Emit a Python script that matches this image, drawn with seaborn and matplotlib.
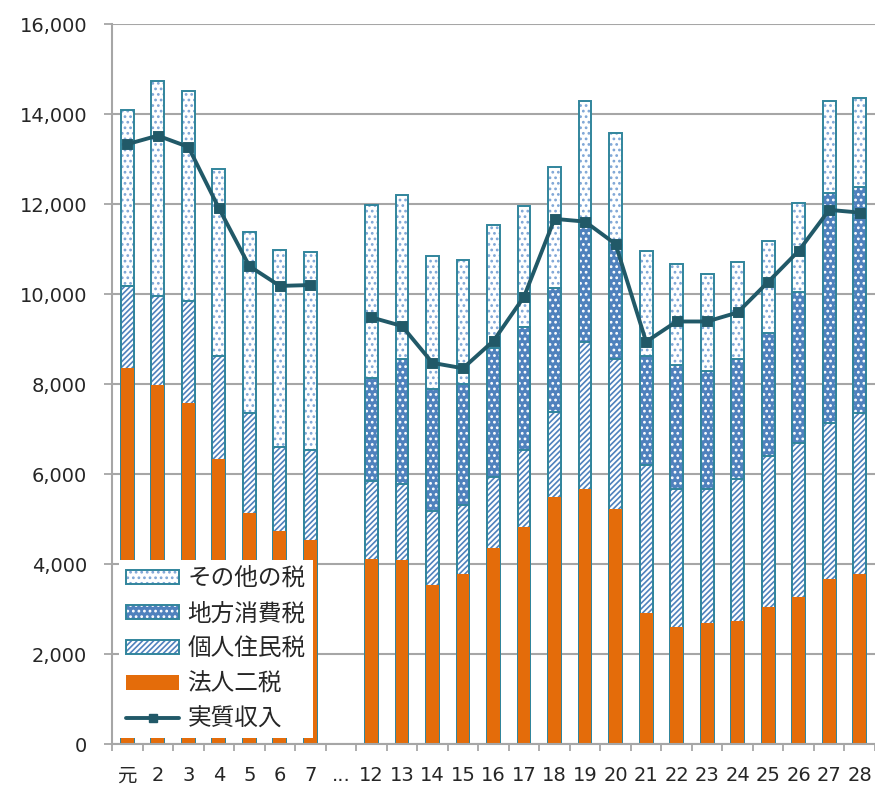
import matplotlib
matplotlib.use('Agg')
import matplotlib.pyplot as plt
import seaborn as sns
import pandas as pd
import numpy as np
from matplotlib.patches import Patch
from matplotlib.lines import Line2D
from matplotlib.legend_handler import HandlerTuple
from matplotlib.ticker import StrMethodFormatter

# 年度 (平成) と「...」の空き
years = ['元', '2', '3', '4', '5', '6', '7',
         '12', '13', '14', '15', '16', '17', '18', '19', '20',
         '21', '22', '23', '24', '25', '26', '27', '28']
order = years[:7] + ['...'] + years[7:]

# 税目別の積み上げ値
corp = [8350, 7980, 7580, 6330, 5130, 4730, 4530,
        4110, 4100, 3530, 3780, 4350, 4830, 5480, 5660, 5220,
        2910, 2600, 2680, 2730, 3040, 3260, 3670, 3780]
indiv = [1830, 1980, 2260, 2300, 2230, 1870, 2000,
         1730, 1680, 1650, 1530, 1590, 1700, 1890, 3280, 3330,
         3290, 3070, 2990, 3160, 3370, 3440, 3470, 3570]
local = [0, 0, 0, 0, 0, 0, 0,
         2290, 2770, 2710, 2680, 2870, 2730, 2760, 2590, 2540,
         2420, 2750, 2620, 2660, 2720, 3340, 5100, 5020]
other = [3910, 4770, 4680, 4140, 4010, 4380, 4410,
         3850, 3660, 2950, 2770, 2720, 2700, 2690, 2760, 2490,
         2340, 2250, 2150, 2160, 2050, 1990, 2050, 1980]
# 実質収入
real = [13330, 13520, 13270, 11910, 10620, 10180, 10200,
        9480, 9290, 8470, 8350, 8960, 9940, 11670, 11610, 11110,
        8940, 9390, 9390, 9590, 10270, 10960, 11870, 11810]

df = pd.DataFrame({'year': years, 'corp': corp, 'indiv': indiv,
                   'local': local, 'other': other, 'real': real})
df['c1'] = df['corp']
df['c2'] = df['c1'] + df['indiv']
df['c3'] = df['c2'] + df['local']
df['c4'] = df['c3'] + df['other']
df['seg'] = [0] * 7 + [1] * 17

teal = '#31859C'
blue = '#4F81BD'
lblue = '#7FA6D6'
orange = '#E46C0A'
dark = '#215968'
gridc = '#A6A6A6'

h_other = '...'
h_local = '...'
h_indiv = '//////'

sns.set_style('white')
plt.rcParams['font.family'] = ['DejaVu Sans', 'Noto Sans CJK JP']
plt.rcParams['hatch.linewidth'] = 1.2

fig = plt.figure(figsize=(8.75, 7.88), dpi=100)
ax = fig.add_axes([0.128, 0.0558, 0.872, 0.9137])

w = 0.42
# その他の税 (合計)
sns.barplot(data=df, x='year', y='c4', order=order, color='white', width=w,
            errorbar=None, hatch=h_other, edgecolor=lblue, linewidth=0, ax=ax)
sns.barplot(data=df, x='year', y='c4', order=order, fill=False, width=w,
            errorbar=None, edgecolor=teal, linewidth=1.4, ax=ax)
# 地方消費税
sns.barplot(data=df, x='year', y='c3', order=order, color=blue, width=w,
            errorbar=None, hatch=h_local, edgecolor='white', linewidth=0,
            saturation=1, ax=ax)
sns.barplot(data=df, x='year', y='c3', order=order, fill=False, width=w,
            errorbar=None, edgecolor=teal, linewidth=1.4, ax=ax)
# 個人住民税
sns.barplot(data=df, x='year', y='c2', order=order, color='white', width=w,
            errorbar=None, hatch=h_indiv, edgecolor=blue, linewidth=0, ax=ax)
sns.barplot(data=df, x='year', y='c2', order=order, fill=False, width=w,
            errorbar=None, edgecolor=teal, linewidth=1.4, ax=ax)
# 法人二税
sns.barplot(data=df, x='year', y='c1', order=order, color=orange, width=w,
            errorbar=None, saturation=1, linewidth=0, ax=ax)

# 実質収入
sns.pointplot(data=df, x='year', y='real', order=order, hue='seg',
              palette=[dark, dark], markers='s', markersize=6, linewidth=2.8,
              errorbar=None, legend=False, ax=ax)
for ln in ax.lines:
    ln.set_zorder(4)

ax.set_ylim(0, 16000)
ax.set_xlim(-0.5, 24.47)
ax.set_yticks(np.arange(0, 16001, 2000))
ax.yaxis.set_major_formatter(StrMethodFormatter('{x:,.0f}'))
ax.set_xticks(range(len(order)))
ax.set_xticklabels(order)
ax.set_xticks(np.arange(-0.5, 24.6, 1), minor=True)
ax.set_xlabel('')
ax.set_ylabel('')

ax.set_axisbelow(True)
ax.yaxis.grid(True, color=gridc, linewidth=1.5)
for s in ['top', 'right']:
    ax.spines[s].set_visible(False)
for s in ['left', 'bottom']:
    ax.spines[s].set_color(gridc)
    ax.spines[s].set_linewidth(1.5)

ax.tick_params(axis='y', which='major', length=6, width=1.3, color=gridc,
               labelsize=14, pad=12, left=True)
ax.tick_params(axis='x', which='major', length=0, labelsize=14, pad=16)
ax.tick_params(axis='x', which='minor', length=5, width=1.3, color=gridc,
               bottom=True)

# 凡例
edge = Patch(fill=False, edgecolor=teal, lw=1.4)
handles = [
    (Patch(facecolor='white', edgecolor=lblue, hatch=h_other, lw=0), edge),
    (Patch(facecolor=blue, edgecolor='white', hatch=h_local, lw=0), edge),
    (Patch(facecolor='white', edgecolor=blue, hatch=h_indiv, lw=0), edge),
    Patch(facecolor=orange, edgecolor=orange, lw=0),
    Line2D([], [], color=dark, marker='s', lw=2.8, ms=6),
]
labels = ['その他の税', '地方消費税', '個人住民税', '法人二税', '実質収入']
leg = ax.legend(handles, labels, handler_map={tuple: HandlerTuple(ndivide=1, pad=0)},
                loc='lower left', bbox_to_anchor=(0.009, 0.008),
                prop={'family': 'Noto Sans CJK JP', 'size': 17},
                frameon=True, framealpha=1, facecolor='white', edgecolor='none',
                fancybox=False, handlelength=2.25, handleheight=0.55,
                labelspacing=0.52, borderpad=0.3, handletextpad=0.35,
                borderaxespad=0)

plt.savefig('out.png', dpi=100)
